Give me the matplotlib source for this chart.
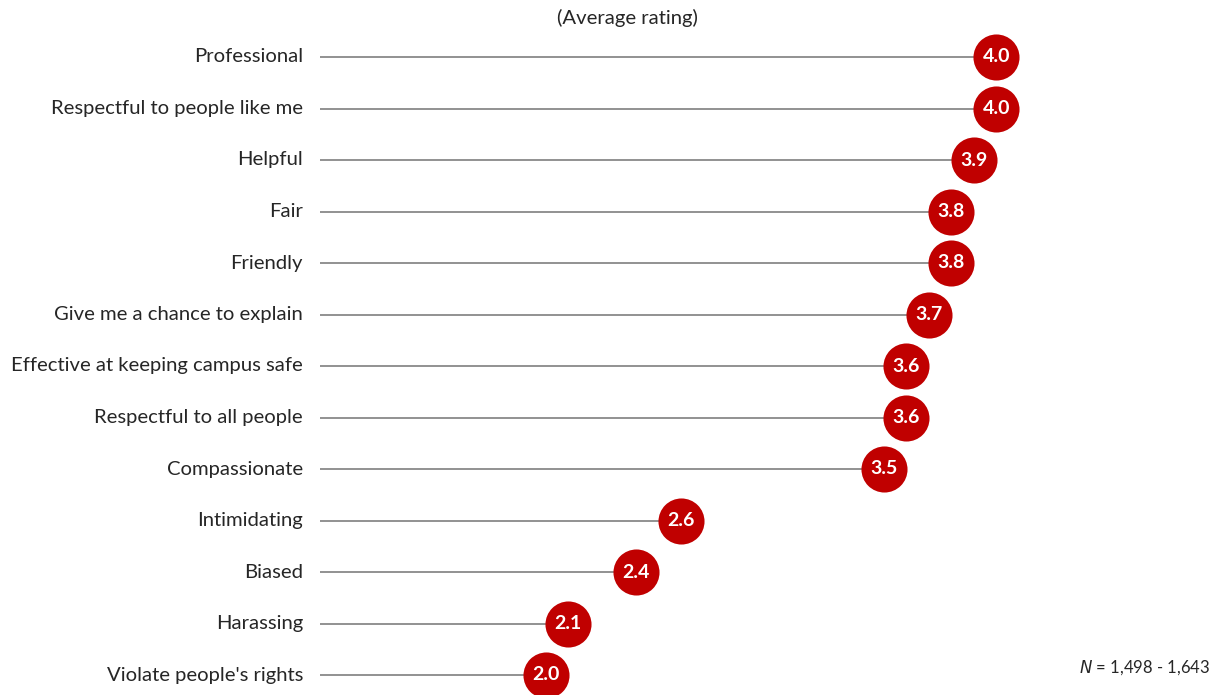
import matplotlib
matplotlib.use("Agg")
import matplotlib.pyplot as plt

# Average rating per attribute
attributes = [
    "Professional", "Respectful to people like me", "Helpful", "Fair",
    "Friendly", "Give me a chance to explain", "Effective at keeping campus safe",
    "Respectful to all people", "Compassionate", "Intimidating", "Biased",
    "Harassing", "Violate people's rights",
]
ratings = [4.0, 4.0, 3.9, 3.8, 3.8, 3.7, 3.6, 3.6, 3.5, 2.6, 2.4, 2.1, 2.0]

RED = "#c00000"
GREY = "#7f7f7f"
TXT = "#262626"
plt.rcParams["font.family"] = ["Lato", "DejaVu Sans"]

W, H = 1218, 695
fig = plt.figure(figsize=(W / 100, H / 100), dpi=100)
x0, px_per_unit = 320, 225.5
row0, row_h = 57, 51.5
ax = fig.add_axes([x0 / W, 0, 1 - x0 / W, 1])
ax.set_xlim(1, 1 + (W - x0) / px_per_unit)
ax.set_ylim((H - row0) / row_h, -row0 / row_h)
ax.axis("off")

ys = list(range(len(attributes)))
ax.hlines(ys, 1, ratings, color=GREY, lw=1.2, zorder=1)
ax.scatter(ratings, ys, s=1100, color=RED, zorder=2, clip_on=False, linewidths=0)
for y, v, lab in zip(ys, ratings, attributes):
    ax.text(v, y, f"{v:.1f}", color="white", fontsize=14, fontweight="bold",
            ha="center", va="center", zorder=3)
    fig.text((x0 - 17) / W, 1 - (row0 + row_h * y) / H, lab, fontsize=14.6,
             color=TXT, ha="right", va="center")

fig.text(627 / W, 1 - 18 / H, "(Average rating)", fontsize=14.6, color=TXT,
         ha="center", va="center")
fig.text(1210 / W, 1 - 668 / H, r"$\it{N}$ = 1,498 - 1,643", fontsize=12,
         color=TXT, ha="right", va="center")

fig.savefig("out.png", dpi=100, facecolor="white")
